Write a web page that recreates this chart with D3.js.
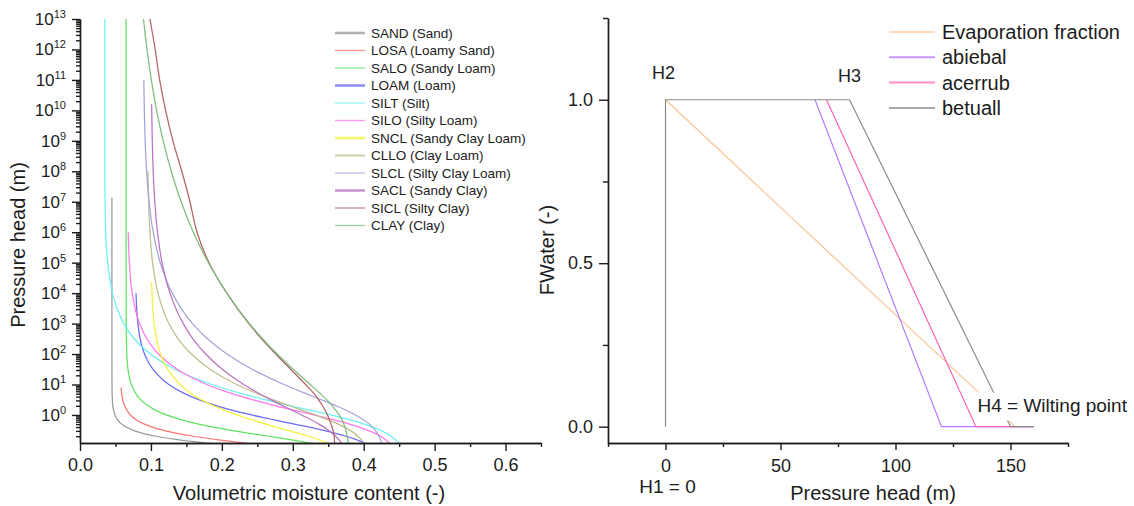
<!DOCTYPE html>
<html>
<head>
<meta charset="utf-8">
<script src="https://cdn.jsdelivr.net/npm/d3@7"></script>
<style>
    body { margin: 0; background: #fff; }
    svg { font-family: "Liberation Sans", Arial, sans-serif; }
    .axis path, .axis line { stroke: #1c1c1c; stroke-width: 1.4px; }
    .axis text { font-size: 18px; fill: #1c1c1c; }
    .title { font-size: 20px; fill: #1c1c1c; }
</style>
</head>
<body>
<div id="chart"></div>
<script>
// ---------- left panel: retention curves, [moisture content, pressure head (m)]
const soilNames = ["SAND (Sand)", "LOSA (Loamy Sand)", "SALO (Sandy Loam)", "LOAM (Loam)",
    "SILT (Silt)", "SILO (Silty Loam)", "SNCL (Sandy Clay Loam)", "CLLO (Clay Loam)",
    "SLCL (Silty Clay Loam)", "SACL (Sandy Clay)", "SICL (Silty Clay)", "CLAY (Clay)"];

const sand = [[0.045,1.35e7],[0.045,1e4],[0.045,1e2],[0.0451,10],[0.0457,3],[0.0463,2],[0.0493,1],
    [0.0528,0.7],[0.0588,0.5],[0.065,0.4],[0.0772,0.3],[0.0884,0.25],[0.107,0.2],[0.142,0.15],[0.179,0.12],[0.195,0.11]];
const losa = [[0.058,8],[0.0594,4],[0.0628,2],[0.0711,1],[0.0791,0.7],[0.0909,0.5],[0.1018,0.4],
    [0.1209,0.3],[0.1366,0.25],[0.16,0.2],[0.198,0.15],[0.232,0.12],[0.2465,0.11]];
const salo = [[0.065,1e13],[0.065,1e6],[0.0651,1e3],[0.066,100],[0.0678,30],[0.0724,10],[0.0787,5],
    [0.0866,3],[0.0959,2],[0.1048,1.5],[0.1218,1],[0.1423,0.7],[0.1675,0.5],[0.1877,0.4],[0.2179,0.3],
    [0.239,0.25],[0.266,0.2],[0.3005,0.15],[0.325,0.12],[0.334,0.11]];
const loam = [[0.079,1e4],[0.0799,3e3],[0.0816,1e3],[0.085,300],[0.091,100],[0.1036,30],[0.1252,10],
    [0.1475,5],[0.17,3],[0.1927,2],[0.242,1],[0.2724,0.7],[0.3024,0.5],[0.3464,0.3],[0.3754,0.2],
    [0.3914,0.15],[0.401,0.12],[0.4042,0.11]];
const silt = [[0.035,1e13],[0.035,1e8],[0.0362,1e6],[0.0391,1e5],[0.0459,1e4],[0.0525,3e3],[0.0618,1e3],
    [0.0774,300],[0.0991,100],[0.1356,30],[0.1858,10],[0.228,5],[0.2654,3],[0.2975,2],[0.354,1],
    [0.401,0.5],[0.4256,0.3],[0.4386,0.2],[0.449,0.12],[0.45,0.11]];
const silo = [[0.068,1e6],[0.0696,1e5],[0.0736,1e4],[0.084,1e3],[0.0948,300],[0.1106,100],[0.1384,30],
    [0.1787,10],[0.2143,5],[0.2466,3],[0.2757,2],[0.3297,1],[0.38,0.5],[0.408,0.3],[0.424,0.2],
    [0.436,0.12],[0.4378,0.11]];
const sncl = [[0.101,2.3e4],[0.1015,1e4],[0.1045,1e3],[0.108,300],[0.1136,100],[0.1242,30],[0.141,10],
    [0.157,5],[0.1727,3],[0.188,2],[0.221,1],[0.2625,0.5],[0.296,0.3],[0.322,0.2],[0.349,0.12],[0.3528,0.11]];
const cllo = [[0.0959,1e8],[0.0986,1e6],[0.1023,1e5],[0.1099,1e4],[0.1253,1e3],[0.139,300],[0.157,100],
    [0.1848,30],[0.2209,10],[0.2499,5],[0.2745,3],[0.2955,2],[0.332,1],[0.3644,0.5],[0.382,0.3],
    [0.392,0.2],[0.4,0.12],[0.4011,0.11]];
const slcl = [[0.09,1e11],[0.0907,1e10],[0.0919,1e9],[0.0939,1e8],[0.1032,1e6],[0.1131,1e5],[0.13,1e4],
    [0.1586,1e3],[0.1808,300],[0.2072,100],[0.2445,30],[0.2877,10],[0.3188,5],[0.3427,3],[0.361,2],
    [0.3885,1],[0.408,0.5],[0.417,0.3],[0.4218,0.2],[0.4255,0.12],[0.426,0.11]];
const sacl = [[0.101,1.6e10],[0.1019,1e9],[0.1032,1e8],[0.1055,1e7],[0.1093,1e6],[0.1157,1e5],[0.1268,1e4],
    [0.1455,1e3],[0.16,300],[0.1773,100],[0.2018,30],[0.2308,10],[0.2707,3],[0.3123,1],[0.3369,0.5],
    [0.3516,0.3],[0.3606,0.2],[0.3686,0.12],[0.3696,0.11]];
const sicl = [[0.0986,1e13],[0.106,1e12],[0.1123,1e11],[0.1207,1e10],[0.131,1e9],[0.1435,1e8],[0.155,1e7],
    [0.165,1e6],[0.182,1e5],[0.207,1e4],[0.238,1e3],[0.257,300],[0.276,100],[0.298,30],[0.318,10],
    [0.33,5],[0.337,3],[0.342,2],[0.349,1],[0.354,0.5],[0.357,0.3],[0.359,0.12],[0.359,0.11]];
const clay = [[0.0895,1e13],[0.0945,1e12],[0.1006,1e11],[0.108,1e10],[0.1173,1e9],[0.1287,1e8],[0.1426,1e7],
    [0.1598,1e6],[0.181,1e5],[0.207,1e4],[0.2389,1e3],[0.2584,300],[0.278,100],[0.3018,30],[0.3246,10],
    [0.3389,5],[0.3487,3],[0.3557,2],[0.3654,1],[0.372,0.5],[0.3751,0.3],[0.3781,0.12],[0.3782,0.11]];

const soilCurves = [sand, losa, salo, loam, silt, silo, sncl, cllo, slcl, sacl, sicl, clay];
const soilColors = ["#9a9a9a", "#ff7474", "#5fe35f", "#6a6af2", "#6cf0f0", "#ff78ec",
    "#f3f33e", "#bdbd8c", "#a3a3dc", "#bb72c2", "#b36464", "#7dbd7d"];
const soilLegendWidth = [2.6, 1.3, 1.3, 2.6, 1.3, 1.3, 2.6, 2, 1.3, 2.6, 1.3, 1.3];

const thetaTicks = [0, 0.1, 0.2, 0.3, 0.4, 0.5, 0.6];
const thetaMinor = [0.05, 0.15, 0.25, 0.35, 0.45, 0.55, 0.65];
const headExponents = [0, 1, 2, 3, 4, 5, 6, 7, 8, 9, 10, 11, 12, 13];

// ---------- right panel: FWater against pressure head, [pressure head (m), FWater]
const stressNames = ["Evaporation fraction", "abiebal", "acerrub", "betuall"];
const evaporation = [[0, 1], [152, 0]];
const abiebal = [[65, 1], [120, 0], [160, 0]];
const acerrub = [[70, 1], [135, 0], [160, 0]];
const betuall = [[0, 0], [0, 1], [80, 1], [150, 0], [160, 0]];
const stressCurves = [evaporation, abiebal, acerrub, betuall];
const stressColors = ["#fbc593", "#b57bff", "#ff62b0", "#8a8a8a"];
const stressLegendColors = ["#fdd9b8", "#c496ff", "#ff8cc4", "#a8a8a8"];

const headTicks = [0, 50, 100, 150];
const headMinor = [-25, 25, 75, 125, 175];
const fwaterTicks = [0, 0.5, 1.0];
const fwaterMinor = [0.25, 0.75, 1.25];

const svg = d3.select("#chart").append("svg")
    .attr("width", 1134)
    .attr("height", 506);

function retentionChart() {
    const box = {left: 80, right: 541, top: 19, bottom: 443};
    const x = d3.scaleLinear().domain([0, 0.65]).range([box.left, box.right]);
    const y = d3.scaleLog().domain([0.12, 1e13]).range([box.bottom, box.top]);

    svg.append("clipPath").attr("id", "clipL")
        .append("rect")
        .attr("x", box.left).attr("y", box.top)
        .attr("width", box.right - box.left).attr("height", box.bottom - box.top);

    const line = d3.line()
        .x(d => x(d[0]))
        .y(d => y(d[1]))
        .curve(d3.curveMonotoneY);

    svg.append("g").attr("clip-path", "url(#clipL)")
        .selectAll("path").data(soilCurves).join("path")
        .attr("d", line)
        .attr("fill", "none")
        .attr("stroke", (d, i) => soilColors[i])
        .attr("stroke-width", 1.25);

    // minor log ticks
    let minorY = [];
    for (let e = -1; e <= 12; e++) {
        for (let k = 2; k <= 9; k++) {
            let v = k * Math.pow(10, e);
            if (v >= 0.12 && v <= 1e13) minorY.push(v);
        }
    }
    svg.append("g").attr("class", "axis")
        .attr("transform", `translate(${box.left},0)`)
        .call(d3.axisLeft(y).tickValues(minorY).tickSize(4).tickSizeOuter(0).tickFormat(""));
    svg.append("g").attr("class", "axis")
        .attr("transform", `translate(${box.left},0)`)
        .call(d3.axisLeft(y).tickValues(headExponents.map(e => Math.pow(10, e))).tickSize(8).tickSizeOuter(0).tickFormat(""));

    svg.append("g").selectAll("text").data(headExponents).join("text")
        .attr("x", box.left - 14)
        .attr("y", e => y(Math.pow(10, e)) + 6)
        .attr("text-anchor", "end")
        .attr("fill", "#1c1c1c")
        .each(function (e) {
            const t = d3.select(this);
            t.append("tspan").attr("font-size", 17).text("10");
            t.append("tspan").attr("font-size", 11).attr("dy", -7).text(e);
        });

    svg.append("g").attr("class", "axis")
        .attr("transform", `translate(0,${box.bottom})`)
        .call(d3.axisBottom(x).tickValues(thetaMinor).tickSize(4).tickSizeOuter(0).tickFormat(""));
    svg.append("g").attr("class", "axis")
        .attr("transform", `translate(0,${box.bottom})`)
        .call(d3.axisBottom(x).tickValues(thetaTicks).tickSize(8).tickPadding(7).tickSizeOuter(0).tickFormat(d3.format(".1f")));

    svg.append("text").attr("class", "title")
        .attr("x", 309).attr("y", 500)
        .attr("text-anchor", "middle")
        .text("Volumetric moisture content (-)");
    svg.append("text").attr("class", "title")
        .attr("transform", "translate(25,245) rotate(-90)")
        .attr("text-anchor", "middle")
        .text("Pressure head (m)");

    // legend
    const leg = svg.append("g").selectAll("g").data(soilNames).join("g")
        .attr("transform", (d, i) => `translate(335,${33 + i * 17.5})`);
    leg.append("line")
        .attr("x1", 0).attr("x2", 30)
        .attr("stroke", (d, i) => soilColors[i])
        .attr("stroke-opacity", 0.75)
        .attr("stroke-width", (d, i) => soilLegendWidth[i]);
    leg.append("text")
        .attr("x", 36).attr("y", 4.6)
        .attr("font-size", 13.5)
        .attr("fill", "#222")
        .text(d => d);
}

function stressChart() {
    const box = {left: 608, right: 1068, top: 18, bottom: 443};
    const x = d3.scaleLinear().domain([-25, 175]).range([box.left, box.right]);
    const y = d3.scaleLinear().domain([-0.05, 1.25]).range([box.bottom, box.top]);

    const line = d3.line()
        .x(d => x(d[0]))
        .y(d => y(d[1]));

    svg.append("g")
        .selectAll("path").data(stressCurves).join("path")
        .attr("d", line)
        .attr("fill", "none")
        .attr("stroke", (d, i) => stressColors[i])
        .attr("stroke-width", 1.2);

    svg.append("g").attr("class", "axis")
        .attr("transform", `translate(${box.left},0)`)
        .call(d3.axisLeft(y).tickValues(fwaterMinor).tickSize(5).tickSizeOuter(0).tickFormat(""));
    svg.append("g").attr("class", "axis")
        .attr("transform", `translate(${box.left},0)`)
        .call(d3.axisLeft(y).tickValues(fwaterTicks).tickSize(9).tickPadding(6).tickSizeOuter(0).tickFormat(d3.format(".1f")));

    svg.append("g").attr("class", "axis")
        .attr("transform", `translate(0,${box.bottom})`)
        .call(d3.axisBottom(x).tickValues(headMinor).tickSize(4).tickSizeOuter(0).tickFormat(""));
    svg.append("g").attr("class", "axis")
        .attr("transform", `translate(0,${box.bottom})`)
        .call(d3.axisBottom(x).tickValues(headTicks).tickSize(7).tickPadding(9).tickSizeOuter(0).tickFormat(d3.format("d")));

    svg.append("text").attr("class", "title")
        .attr("x", 873).attr("y", 500)
        .attr("text-anchor", "middle")
        .text("Pressure head (m)");
    svg.append("text").attr("class", "title")
        .attr("transform", "translate(554,250) rotate(-90)")
        .attr("text-anchor", "middle")
        .text("FWater (-)");

    // threshold labels
    svg.append("text").attr("x", x(0) - 2).attr("y", y(1) - 21)
        .attr("text-anchor", "middle").attr("font-size", 18).attr("fill", "#1c1c1c").text("H2");
    svg.append("text").attr("x", x(80)).attr("y", y(1) - 18)
        .attr("text-anchor", "middle").attr("font-size", 18).attr("fill", "#1c1c1c").text("H3");
    svg.append("text").attr("x", x(0) + 2).attr("y", 493)
        .attr("text-anchor", "middle").attr("font-size", 19).attr("fill", "#1c1c1c").text("H1 = 0");
    svg.append("rect")
        .attr("x", x(150) - 36).attr("y", y(0) - 34)
        .attr("width", 160).attr("height", 28)
        .attr("fill", "#fff");
    svg.append("text").attr("x", x(150) - 33).attr("y", y(0) - 15)
        .attr("font-size", 19).attr("fill", "#1c1c1c").text("H4 = Wilting point");

    // legend
    const leg = svg.append("g").selectAll("g").data(stressNames).join("g")
        .attr("transform", (d, i) => `translate(889,${32 + i * 25.3})`);
    leg.append("line")
        .attr("x1", 0).attr("x2", 46)
        .attr("stroke", (d, i) => stressLegendColors[i])
        .attr("stroke-width", 2);
    leg.append("text")
        .attr("x", 53).attr("y", 7)
        .attr("font-size", 20)
        .attr("fill", "#1c1c1c")
        .text(d => d);
}

retentionChart();
stressChart();
</script>
</body>
</html>
